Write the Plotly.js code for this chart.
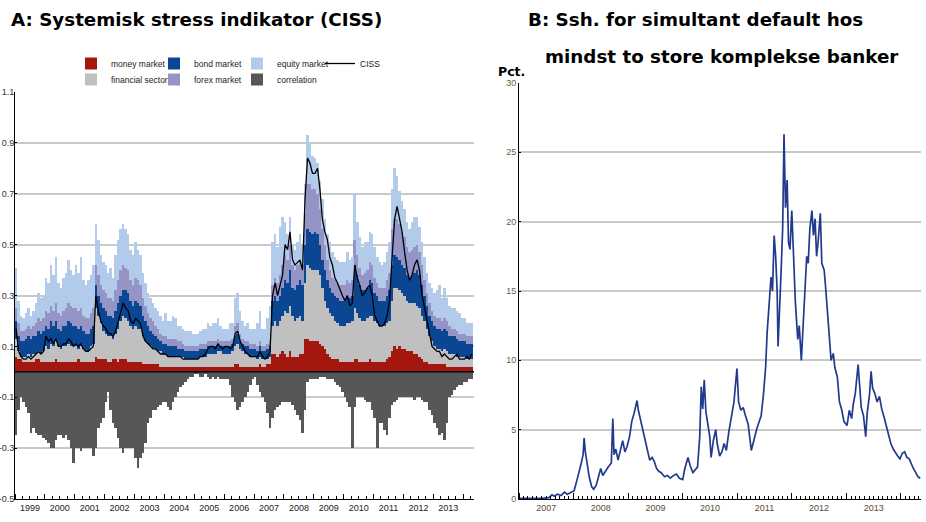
<!DOCTYPE html>
<html>
<head>
<meta charset="utf-8">
<script src="https://cdn.plot.ly/plotly-3.0.1.min.js"></script>
<style>html,body{margin:0;padding:0;background:#fff;}#chart{width:926px;height:522px;}</style>
</head>
<body>
<div id="chart"></div>
<script>
// ---------- Panel A: CISS (monthly, Jan 1999 - Apr 2014) ----------
const cissStartYear = 1999;
const moneyMarket = [
 .06,.05,.05,.04,.04,.04,.04,.04,.05,.05,.04,.04,
 .04,.04,.04,.04,.05,.04,.04,.04,.04,.04,.04,.04,
 .04,.05,.04,.04,.04,.04,.04,.04,.06,.05,.05,.05,
 .05,.04,.04,.05,.05,.04,.05,.05,.05,.04,.04,.04,
 .04,.04,.04,.03,.03,.03,.03,.03,.03,.03,.02,.02,
 .02,.02,.02,.02,.02,.02,.02,.02,.02,.02,.02,.02,
 .02,.02,.02,.02,.02,.02,.02,.02,.02,.02,.02,.02,
 .02,.02,.02,.02,.03,.03,.02,.02,.02,.02,.02,.02,
 .02,.02,.03,.02,.02,.03,.03,.07,.07,.06,.07,.08,
 .07,.06,.08,.06,.06,.06,.07,.07,.13,.13,.12,.12,
 .12,.12,.11,.10,.09,.07,.06,.05,.05,.05,.04,.04,
 .04,.04,.04,.04,.05,.05,.04,.04,.04,.04,.05,.04,
 .04,.04,.04,.04,.04,.05,.06,.08,.10,.09,.10,.09,
 .09,.08,.08,.08,.07,.07,.06,.05,.04,.04,.03,.03,
 .03,.03,.03,.03,.03,.02,.02,.02,.02,.02,.02,.02,
 .02,.02,.02,.02];
const financialSector = [
 .07,.03,.01,.02,.02,.03,.02,.03,.02,.03,.03,.04,
 .06,.05,.07,.06,.07,.06,.05,.06,.06,.07,.06,.06,
 .06,.04,.06,.05,.04,.04,.06,.07,.19,.17,.14,.11,
 .10,.10,.10,.08,.10,.13,.15,.17,.16,.16,.14,.13,
 .14,.13,.13,.11,.09,.08,.07,.06,.06,.05,.06,.05,
 .05,.04,.04,.04,.04,.04,.04,.04,.03,.03,.03,.03,
 .03,.03,.04,.04,.04,.05,.05,.05,.05,.06,.06,.05,
 .05,.05,.05,.06,.07,.08,.07,.06,.05,.05,.04,.04,
 .04,.03,.03,.03,.03,.02,.03,.11,.13,.12,.13,.14,
 .17,.17,.18,.16,.14,.15,.15,.13,.22,.29,.29,.28,
 .28,.28,.27,.23,.19,.18,.17,.17,.15,.14,.14,.14,
 .14,.15,.15,.16,.20,.18,.17,.16,.16,.17,.17,.18,
 .16,.15,.14,.14,.14,.14,.14,.20,.23,.24,.22,.22,
 .21,.20,.19,.19,.20,.19,.19,.17,.16,.13,.11,.09,
 .07,.06,.06,.05,.06,.06,.05,.05,.05,.04,.04,.04,
 .04,.03,.03,.03];
const bondMarket = [
 .07,.06,.06,.06,.07,.07,.07,.07,.07,.08,.08,.08,
 .08,.08,.09,.08,.08,.07,.07,.08,.08,.09,.09,.08,
 .08,.08,.08,.07,.07,.07,.07,.07,.09,.08,.08,.09,
 .09,.08,.08,.08,.09,.10,.10,.10,.11,.11,.10,.09,
 .10,.10,.09,.08,.08,.07,.06,.06,.05,.05,.04,.04,
 .04,.04,.04,.04,.04,.03,.03,.03,.03,.03,.03,.03,
 .03,.03,.03,.03,.03,.03,.03,.03,.03,.03,.02,.03,
 .03,.03,.03,.03,.04,.04,.03,.03,.03,.03,.03,.03,
 .03,.03,.04,.03,.03,.04,.04,.10,.10,.10,.10,.11,
 .12,.12,.14,.11,.12,.13,.14,.14,.15,.14,.14,.14,
 .15,.14,.12,.11,.12,.11,.10,.09,.10,.10,.10,.10,
 .10,.11,.10,.10,.17,.15,.13,.12,.12,.12,.14,.13,
 .11,.11,.10,.10,.10,.11,.12,.14,.13,.12,.12,.11,
 .11,.10,.10,.11,.12,.14,.13,.12,.10,.09,.08,.08,
 .08,.08,.08,.08,.08,.08,.07,.07,.07,.07,.06,.06,
 .06,.06,.06,.06];
const forexMarket = [
 .05,.05,.04,.04,.04,.04,.04,.04,.05,.05,.05,.05,
 .06,.06,.06,.06,.07,.06,.06,.06,.07,.07,.07,.07,
 .07,.07,.07,.06,.06,.06,.06,.07,.08,.08,.07,.07,
 .07,.07,.07,.07,.08,.09,.10,.10,.09,.09,.08,.08,
 .09,.09,.08,.07,.06,.05,.05,.05,.04,.04,.03,.03,
 .03,.03,.03,.03,.03,.03,.03,.02,.02,.02,.02,.02,
 .02,.02,.02,.02,.02,.02,.02,.02,.02,.02,.02,.02,
 .02,.02,.02,.02,.04,.04,.03,.02,.02,.02,.02,.02,
 .02,.02,.02,.02,.02,.02,.02,.06,.07,.07,.08,.09,
 .10,.09,.10,.09,.08,.08,.08,.08,.12,.18,.19,.18,
 .17,.16,.14,.12,.10,.08,.07,.06,.06,.06,.06,.06,
 .06,.06,.06,.06,.10,.08,.07,.06,.07,.07,.07,.07,
 .06,.05,.05,.05,.05,.06,.07,.14,.14,.15,.14,.13,
 .12,.11,.10,.10,.10,.10,.09,.08,.06,.05,.05,.04,
 .04,.04,.04,.04,.04,.04,.04,.03,.03,.03,.03,.03,
 .03,.03,.03,.03];
const equityMarket = [
 .16,.09,.06,.05,.06,.07,.05,.06,.08,.10,.09,.09,
 .13,.12,.16,.14,.18,.12,.11,.13,.14,.17,.14,.13,
 .17,.15,.20,.14,.13,.15,.15,.17,.16,.14,.12,.11,
 .11,.10,.12,.09,.14,.16,.16,.16,.15,.14,.12,.12,
 .14,.12,.12,.10,.09,.08,.08,.07,.07,.07,.07,.06,
 .09,.07,.07,.09,.08,.06,.06,.06,.06,.06,.06,.05,
 .05,.05,.05,.06,.06,.07,.06,.07,.07,.08,.06,.05,
 .05,.05,.07,.06,.11,.12,.09,.07,.06,.07,.06,.06,
 .06,.09,.12,.07,.07,.10,.14,.17,.17,.14,.19,.19,
 .13,.10,.11,.08,.08,.09,.10,.08,.12,.19,.16,.13,
 .12,.12,.11,.12,.10,.10,.11,.10,.09,.09,.09,.09,
 .09,.11,.09,.09,.18,.13,.12,.11,.12,.11,.12,.12,
 .12,.10,.10,.09,.10,.11,.12,.16,.20,.17,.13,.12,
 .11,.10,.09,.11,.12,.11,.10,.09,.09,.08,.08,.09,
 .09,.11,.13,.09,.12,.09,.08,.08,.08,.08,.08,.06,
 .06,.05,.05,.05];
const correlation = [
 -.25,-.15,-.10,-.12,-.14,-.16,-.24,-.22,-.24,-.25,-.25,-.26,
 -.27,-.28,-.30,-.30,-.27,-.25,-.25,-.26,-.25,-.27,-.30,-.36,
 -.30,-.30,-.31,-.30,-.30,-.30,-.30,-.33,-.30,-.22,-.20,-.18,
 -.12,-.08,-.15,-.20,-.22,-.26,-.30,-.32,-.30,-.30,-.30,-.30,
 -.34,-.38,-.34,-.32,-.28,-.20,-.18,-.15,-.15,-.14,-.13,-.12,
 -.12,-.14,-.15,-.12,-.10,-.08,-.06,-.05,-.04,-.03,-.02,-.02,
 -.01,-.01,-.02,-.02,-.01,-.02,-.03,-.02,-.03,-.02,-.03,-.03,
 -.03,-.03,-.05,-.10,-.12,-.15,-.14,-.12,-.10,-.08,-.05,-.03,
 -.02,-.05,-.08,-.10,-.12,-.16,-.22,-.18,-.15,-.14,-.13,-.12,
 -.12,-.12,-.12,-.13,-.15,-.17,-.19,-.24,-.15,-.04,-.03,-.03,
 -.03,-.03,-.02,-.02,-.02,-.03,-.03,-.03,-.04,-.05,-.06,-.08,
 -.10,-.12,-.14,-.30,-.14,-.10,-.10,-.10,-.11,-.12,-.12,-.15,
 -.18,-.30,-.20,-.20,-.23,-.25,-.18,-.13,-.12,-.11,-.10,-.10,
 -.10,-.10,-.10,-.10,-.11,-.10,-.10,-.11,-.12,-.12,-.15,-.17,
 -.20,-.22,-.25,-.24,-.27,-.20,-.10,-.09,-.07,-.06,-.05,-.05,
 -.04,-.04,-.03,-.03];
const cissIndex = [
 .17,.08,.06,.05,.05,.06,.05,.06,.07,.08,.07,.08,
 .14,.12,.13,.11,.13,.10,.10,.11,.11,.13,.12,.10,
 .11,.10,.11,.09,.08,.08,.09,.10,.30,.24,.20,.18,
 .17,.15,.15,.14,.16,.20,.24,.27,.25,.24,.20,.19,
 .21,.20,.19,.14,.12,.11,.10,.09,.09,.08,.07,.07,
 .07,.06,.06,.06,.06,.06,.06,.05,.05,.05,.05,.05,
 .05,.05,.06,.06,.07,.09,.10,.10,.09,.11,.10,.09,
 .10,.10,.09,.10,.15,.16,.12,.10,.08,.07,.06,.06,
 .06,.06,.08,.06,.05,.06,.08,.30,.35,.30,.34,.38,
 .50,.48,.55,.44,.42,.43,.44,.40,.68,.84,.82,.78,
 .78,.80,.72,.60,.55,.52,.45,.42,.37,.35,.32,.30,
 .28,.30,.26,.27,.42,.37,.34,.30,.31,.33,.34,.30,
 .22,.20,.18,.18,.19,.22,.28,.45,.60,.65,.60,.55,
 .47,.40,.36,.38,.42,.44,.40,.30,.25,.20,.15,.10,
 .09,.08,.08,.06,.07,.06,.05,.05,.06,.07,.05,.05,
 .05,.06,.05,.07];
const cissTickVals = [-0.5,-0.3,-0.1,0.1,0.3,0.5,0.7,0.9,1.1];
const cissTickText = ['-0.5','-0.3','-0.1','0.1','0.3','0.5','0.7','0.9','1.1'];

// ---------- Panel B: probability of simultaneous default (pct.) ----------
const pdDates = [
 '2007-01-01','2007-02-01','2007-03-01','2007-04-01','2007-05-01','2007-06-01','2007-07-01','2007-07-20',
 '2007-08-10','2007-08-25','2007-09-15','2007-10-10','2007-11-01','2007-11-20','2007-12-10',
 '2008-01-05','2008-01-20','2008-02-05','2008-02-20','2008-03-05','2008-03-12','2008-03-20','2008-04-01',
 '2008-04-15','2008-05-01','2008-05-15','2008-06-01','2008-06-15','2008-07-01','2008-07-15','2008-08-01',
 '2008-08-20','2008-09-10','2008-09-20','2008-09-28','2008-10-10','2008-10-25','2008-11-10','2008-11-25',
 '2008-12-10','2008-12-25','2009-01-10','2009-01-25','2009-02-10','2009-03-01','2009-03-10','2009-03-25',
 '2009-04-10','2009-04-25','2009-05-10','2009-05-25','2009-06-10','2009-06-25','2009-07-10','2009-07-25',
 '2009-08-10','2009-09-01','2009-09-20','2009-10-10','2009-11-01','2009-11-20','2009-12-10','2010-01-01',
 '2010-01-15','2010-02-05','2010-02-20','2010-03-10','2010-03-25','2010-04-10','2010-04-25','2010-05-05',
 '2010-05-15','2010-05-25','2010-06-05','2010-06-20','2010-07-01','2010-07-10','2010-07-25','2010-08-10',
 '2010-08-20','2010-09-05','2010-09-20','2010-10-05','2010-10-20','2010-11-05','2010-11-25','2010-12-10',
 '2010-12-30','2011-01-10','2011-01-25','2011-02-10','2011-02-25','2011-03-15','2011-04-05','2011-04-20',
 '2011-05-10','2011-05-25','2011-06-10','2011-06-25','2011-07-10','2011-07-20','2011-08-05','2011-08-15',
 '2011-08-25','2011-09-05','2011-09-15','2011-09-25','2011-10-01','2011-10-10','2011-10-20','2011-11-01',
 '2011-11-10','2011-11-20','2011-12-01','2011-12-10','2011-12-20','2012-01-01','2012-01-10','2012-01-25',
 '2012-02-10','2012-02-20','2012-03-05','2012-03-15','2012-03-30','2012-04-10','2012-04-20','2012-05-01',
 '2012-05-15','2012-05-25','2012-06-05','2012-06-15','2012-06-25','2012-07-10','2012-07-20','2012-08-05',
 '2012-08-15','2012-08-25','2012-09-05','2012-09-20','2012-10-05','2012-10-15','2012-11-01','2012-11-15',
 '2012-12-01','2012-12-15','2013-01-05','2013-01-20','2013-02-05','2013-02-15','2013-03-01','2013-03-20',
 '2013-04-01','2013-04-10','2013-04-25','2013-05-10','2013-05-20','2013-06-05','2013-06-15','2013-06-25',
 '2013-07-10','2013-07-25','2013-08-10','2013-08-25','2013-09-10','2013-09-25','2013-10-10','2013-10-25',
 '2013-11-10','2013-11-25','2013-12-10','2013-12-25','2014-01-10','2014-01-25','2014-02-10','2014-02-25',
 '2014-03-10','2014-03-25','2014-04-10','2014-04-25','2014-05-10'];
const pdValues = [
 0.05,0.04,0.06,0.05,0.05,0.05,0.08,0.1,
 0.3,0.2,0.35,0.25,0.5,0.35,0.45,
 0.6,1.2,1.8,2.5,3.2,4.4,3.4,2.4,
 1.6,0.9,0.7,1.0,1.6,2.2,1.7,2.0,
 2.3,2.6,5.8,3.2,3.6,2.8,3.6,4.2,
 3.4,3.8,4.5,5.6,6.2,7.1,6.4,5.7,
 5.0,4.2,3.4,2.8,3.0,2.7,2.2,2.0,
 1.9,1.6,1.7,1.5,1.7,1.8,1.5,1.4,
 2.2,3.0,2.4,1.9,2.1,2.3,4.5,8.1,
 6.5,8.6,6.3,5.2,4.5,3.0,4.2,5.0,
 4.0,3.1,3.4,4.0,3.5,4.8,6.2,7.0,
 9.4,7.0,6.4,6.6,6.0,5.4,3.5,4.2,
 5.0,5.5,6.0,7.5,9.5,12.0,14.5,16.0,
 15.0,19.0,17.5,15.0,11.0,14.0,16.0,19.5,
 26.3,21.0,23.0,18.5,18.0,20.8,18.5,14.2,
 11.5,12.5,10.0,12.0,14.6,17.5,17.0,19.5,
 20.8,19.0,20.2,17.5,18.5,20.6,17.0,16.5,
 15.2,13.5,12.2,10.0,10.5,9.5,8.8,7.0,
 6.4,5.6,5.3,6.4,5.8,6.8,7.6,9.7,
 7.8,6.6,6.0,4.5,6.2,7.6,9.2,8.0,
 7.6,7.0,7.4,6.5,5.9,5.2,4.5,4.0,
 3.6,3.3,3.1,2.9,3.3,3.4,3.0,2.9,
 2.5,2.2,1.9,1.6,1.5];
const pdTickVals = [0,5,10,15,20,25,30];

// month-centre positions for panel A
const cissDates = moneyMarket.map((_, i) => {
  const d = new Date(Date.UTC(cissStartYear, i, 15));
  return d.toISOString().slice(0, 10);
});
const barW = 31 * 86400000;
const narrow = '"Liberation Sans Narrow", "Arial Narrow", "Liberation Sans", Arial, sans-serif';

function barTrace(name, y, color, legend, rank) {
  return {type: 'bar', name: name, x: cissDates, y: y, width: barW,
          marker: {color: color, line: {width: 0}},
          xaxis: 'x', yaxis: 'y', legend: legend, legendrank: rank, hoverinfo: 'skip'};
}

const traces = [
  barTrace('money market', moneyMarket, '#a4170f', 'legend', 1),
  barTrace('financial sector', financialSector, '#c0c0c0', 'legend2', 1),
  barTrace('bond market', bondMarket, '#0b4693', 'legend', 2),
  barTrace('forex market', forexMarket, '#9494c6', 'legend2', 2),
  barTrace('equity market', equityMarket, '#b2cbea', 'legend', 3),
  barTrace('correlation', correlation, '#575757', 'legend2', 3),
  {type: 'scatter', mode: 'lines', name: 'CISS', x: cissDates, y: cissIndex,
   line: {color: '#000', width: 1.3}, xaxis: 'x', yaxis: 'y', legend: 'legend', legendrank: 4, hoverinfo: 'skip'},
  {type: 'scatter', mode: 'lines', name: 'pd', x: pdDates, y: pdValues,
   line: {color: '#223a8e', width: 1.7}, xaxis: 'x2', yaxis: 'y2', showlegend: false, hoverinfo: 'skip'}
];

const H = 522, W = 926;
const axA = {
  range: [-0.5, 1.1], tickmode: 'array', tickvals: cissTickVals, ticktext: cissTickText,
  showgrid: true, gridcolor: '#c9c9c9', gridwidth: 2, zeroline: false,
  showline: true, linecolor: '#000', linewidth: 1, ticks: 'inside', ticklen: 2, tickcolor: '#000',
  ticklabelstandoff: -2,
  tickfont: {family: narrow, size: 9, color: '#333'}, fixedrange: true
};
const axB = {
  range: [0, 30], tickmode: 'array', tickvals: pdTickVals,
  showgrid: true, gridcolor: '#c9c9c9', gridwidth: 2, zeroline: false,
  showline: true, linecolor: '#000', linewidth: 1, ticks: 'inside', ticklen: 2, tickcolor: '#000',
  tickfont: {family: narrow, size: 9, color: '#6b5b45'}, fixedrange: true
};

const legendFont = {family: narrow, size: 8.5, color: '#222'};
const layout = {
  width: W, height: H, margin: {l: 0, r: 0, t: 0, b: 0},
  paper_bgcolor: '#fff', plot_bgcolor: '#fff',
  barmode: 'relative', bargap: 0,
  font: {family: narrow, size: 10, color: '#222'},
  xaxis: {domain: [15 / W, 474 / W], anchor: 'y', type: 'date',
          range: ['1999-01-01', '2014-05-12'], tick0: '1999-01-01', dtick: 'M12',
          tickformat: '%Y', ticklabelmode: 'period', ticks: 'inside', ticklen: 5, tickcolor: '#000',
          minor: {dtick: 'M3', ticks: 'inside', ticklen: 3, tickcolor: '#000'},
          showline: true, linecolor: '#000', linewidth: 1, showgrid: false,
          tickfont: {family: narrow, size: 9, color: '#222'}, fixedrange: true},
  yaxis: Object.assign({domain: [1 - 499 / H, 1 - 92 / H], anchor: 'x', side: 'left'}, axA),
  yaxis3: Object.assign({overlaying: 'y', anchor: 'x', side: 'right'}, axA, {showgrid: false}),
  xaxis2: {domain: [519 / W, 921 / W], anchor: 'y2', type: 'date',
           range: ['2007-01-01', '2014-05-15'], tick0: '2007-01-01', dtick: 'M12',
           tickformat: '%Y', ticklabelmode: 'period', ticks: 'inside', ticklen: 6, tickcolor: '#000',
           minor: {dtick: 'M1', ticks: 'inside', ticklen: 3, tickcolor: '#000'},
           showline: true, linecolor: '#000', linewidth: 1, showgrid: false,
           tickfont: {family: narrow, size: 9, color: '#5a4a35'}, fixedrange: true},
  yaxis2: Object.assign({domain: [1 - 499 / H, 1 - 83 / H], anchor: 'x2', side: 'left'}, axB),
  yaxis4: Object.assign({overlaying: 'y2', anchor: 'x2', side: 'right'}, axB, {showgrid: false}),
  shapes: [{type: 'line', xref: 'x domain', yref: 'y', x0: 0, x1: 1, y0: 0, y1: 0,
            line: {color: '#000', width: 1.6}, layer: 'above'}],
  legend: {orientation: 'h', x: 71 / W, y: 1 - 49 / H, xanchor: 'left', yanchor: 'top',
           entrywidth: 38, entrywidthmode: 'pixels', itemwidth: 30, bgcolor: 'rgba(0,0,0,0)',
           font: legendFont, traceorder: 'normal'},
  legend2: {orientation: 'h', x: 71 / W, y: 1 - 65 / H, xanchor: 'left', yanchor: 'top',
            entrywidth: 38, entrywidthmode: 'pixels', itemwidth: 30, bgcolor: 'rgba(0,0,0,0)',
            font: legendFont, traceorder: 'normal'},
  annotations: [
    {text: '<b>A: Systemisk stress indikator (CISS)</b>', xref: 'paper', yref: 'paper',
     x: 9 / W, y: 1 - 20 / H, xanchor: 'left', yanchor: 'middle', showarrow: false,
     font: {family: 'DejaVu Sans', size: 18.3, color: '#000'}},
    {text: '<b>B: Ssh. for simultant default hos</b>', xref: 'paper', yref: 'paper',
     x: 526 / W, y: 1 - 20 / H, xanchor: 'left', yanchor: 'middle', showarrow: false,
     font: {family: 'DejaVu Sans', size: 18.3, color: '#000'}},
    {text: '<b>mindst to store komplekse banker</b>', xref: 'paper', yref: 'paper',
     x: 543 / W, y: 1 - 56 / H, xanchor: 'left', yanchor: 'middle', showarrow: false,
     font: {family: 'DejaVu Sans', size: 18.3, color: '#000'}},
    {text: '<b>Pct.</b>', xref: 'paper', yref: 'paper',
     x: 496 / W, y: 1 - 71 / H, xanchor: 'left', yanchor: 'middle', showarrow: false,
     font: {family: 'DejaVu Sans', size: 12.5, color: '#000'}}
  ]
};

Plotly.newPlot('chart', traces, layout, {staticPlot: true, displayModeBar: false});
</script>
</body>
</html>
